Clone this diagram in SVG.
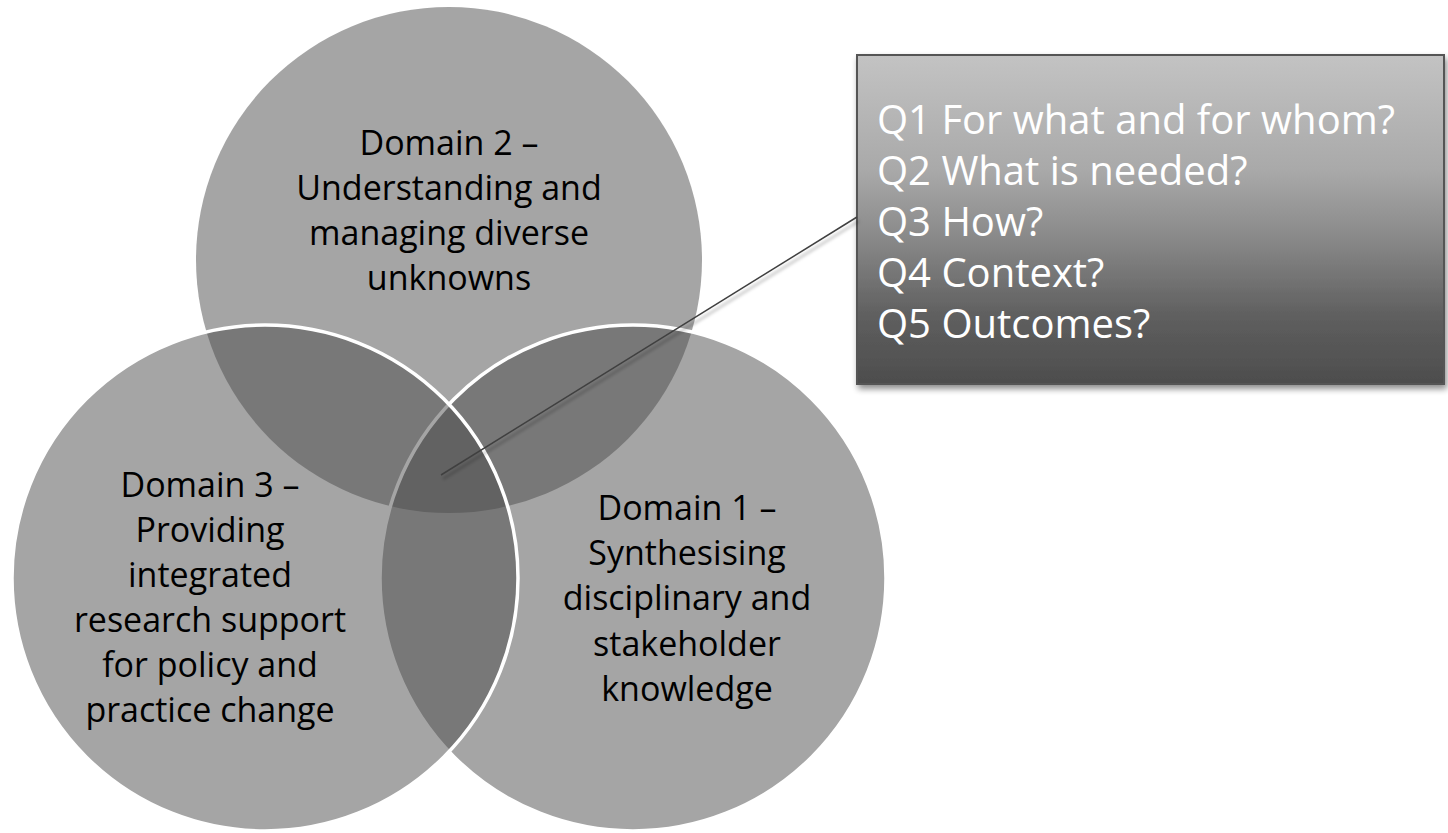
<svg xmlns="http://www.w3.org/2000/svg" width="1448" height="833" viewBox="0 0 1448 833">
  <defs>
    <style>
      .circle { fill: #4b4b4b; fill-opacity: 0.5; }
      .outlined { stroke: #ffffff; stroke-width: 3.5; }
      .dlabel { font-family: "Open Sans", "Noto Sans", "Liberation Sans", sans-serif; font-size: 34px; fill: #000000; text-anchor: middle; }
      .qlabel { font-family: "Open Sans", "Noto Sans", "Liberation Sans", sans-serif; font-size: 40px; fill: #ffffff; }
    </style>
    <linearGradient id="boxGrad" x1="0" y1="0" x2="0" y2="1">
      <stop offset="0" stop-color="#c3c3c3"/>
      <stop offset="0.35" stop-color="#a9a9a9"/>
      <stop offset="0.55" stop-color="#8a8a8a"/>
      <stop offset="0.8" stop-color="#5e5e5e"/>
      <stop offset="1" stop-color="#4d4d4d"/>
    </linearGradient>
    <filter id="boxShadow" x="-10%" y="-10%" width="125%" height="130%">
      <feGaussianBlur in="SourceAlpha" stdDeviation="3"/>
      <feOffset dx="2" dy="4" result="b"/>
      <feComponentTransfer><feFuncA type="linear" slope="0.45"/></feComponentTransfer>
      <feMerge><feMergeNode/><feMergeNode in="SourceGraphic"/></feMerge>
    </filter>
    <filter id="lineShadow" x="-10%" y="-10%" width="120%" height="120%">
      <feGaussianBlur stdDeviation="1.5"/>
    </filter>
  </defs>
  <rect width="1448" height="833" fill="#ffffff"/>

  <g id="domain2">
    <circle class="circle" cx="449" cy="260" r="253"/>
  </g>
  <g id="domain1">
    <circle class="circle outlined" cx="633" cy="578" r="253"/>
  </g>
  <g id="domain3">
    <circle class="circle outlined" cx="265" cy="578" r="253"/>
  </g>

  <g id="labels">
    <text class="dlabel" x="449"><tspan x="449" y="155">Domain 2 –</tspan><tspan x="449" y="200">Understanding and</tspan><tspan x="449" y="245">managing diverse</tspan><tspan x="449" y="290">unknowns</tspan></text>
    <text class="dlabel" x="210"><tspan x="210" y="497">Domain 3 –</tspan><tspan x="210" y="542">Providing</tspan><tspan x="210" y="587">integrated</tspan><tspan x="210" y="632">research support</tspan><tspan x="210" y="677">for policy and</tspan><tspan x="210" y="722">practice change</tspan></text>
    <text class="dlabel" x="687"><tspan x="687" y="520">Domain 1 –</tspan><tspan x="687" y="565">Synthesising</tspan><tspan x="687" y="610">disciplinary and</tspan><tspan x="687" y="656">stakeholder</tspan><tspan x="687" y="701">knowledge</tspan></text>
  </g>

  <g id="callout">
    <rect x="857" y="55" width="587" height="329" fill="url(#boxGrad)" stroke="#555555" stroke-width="2" filter="url(#boxShadow)"/>
    <text class="qlabel"><tspan x="877" y="134">Q1 For what and for whom?</tspan><tspan x="877" y="185">Q2 What is needed?</tspan><tspan x="877" y="236">Q3 How?</tspan><tspan x="877" y="287">Q4 Context?</tspan><tspan x="877" y="338">Q5 Outcomes?</tspan></text>
  </g>

  <g id="connectors">
    <line x1="443" y1="479" x2="859" y2="221" stroke="#000000" stroke-opacity="0.18" stroke-width="3" filter="url(#lineShadow)"/>
    <line x1="441" y1="475" x2="857" y2="217" stroke="#404040" stroke-width="1.5"/>
  </g>
</svg>
